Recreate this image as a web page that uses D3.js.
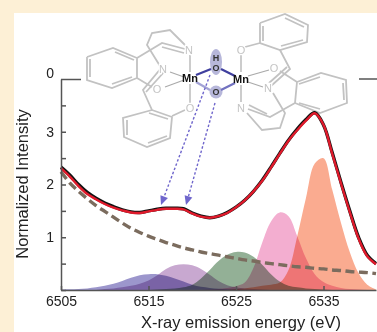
<!DOCTYPE html>
<html>
<head>
<meta charset="utf-8">
<script src="https://cdnjs.cloudflare.com/ajax/libs/d3/7.8.5/d3.min.js"></script>
<style>
  html, body { margin: 0; padding: 0; background: #fdf0d6; overflow: hidden; }
  text { font-family: "Liberation Sans", Arimo, sans-serif; }
</style>
</head>
<body>
<div id="canvas"></div>
<script>
// energy grid (eV), one reading per eV
const energy = d3.range(6505, 6542);

const dataLine = [2.33, 2.18, 2.0, 1.85, 1.74, 1.65, 1.58, 1.52, 1.48, 1.47, 1.5, 1.53, 1.55, 1.55, 1.54, 1.46, 1.4, 1.37, 1.4, 1.47, 1.57, 1.7, 1.87, 2.08, 2.33, 2.59, 2.84, 3.05, 3.23, 3.36, 3.13, 2.6, 2.04, 1.5, 1.0, 0.66, 0.5];
const fitLine = [2.31, 2.15, 1.97, 1.82, 1.72, 1.63, 1.56, 1.51, 1.47, 1.46, 1.49, 1.52, 1.54, 1.54, 1.53, 1.45, 1.39, 1.37, 1.4, 1.46, 1.57, 1.7, 1.87, 2.07, 2.32, 2.58, 2.83, 3.03, 3.21, 3.35, 3.13, 2.58, 2.02, 1.48, 0.98, 0.64, 0.49];
const background = [2.24, 2.03, 1.87, 1.73, 1.6, 1.49, 1.38, 1.27, 1.17, 1.09, 1.02, 0.96, 0.9, 0.85, 0.8, 0.76, 0.72, 0.69, 0.66, 0.63, 0.6, 0.57, 0.55, 0.52, 0.5, 0.48, 0.46, 0.44, 0.43, 0.41, 0.4, 0.38, 0.37, 0.35, 0.34, 0.33, 0.31];

const peak1 = [0.01, 0.015, 0.02, 0.03, 0.05, 0.08, 0.12, 0.17, 0.23, 0.28, 0.3, 0.3, 0.27, 0.22, 0.16, 0.1, 0.06, 0.04, 0.025, 0.015, 0.01, 0, 0, 0, 0, 0, 0, 0, 0, 0, 0, 0, 0, 0, 0, 0, 0];
const peak2 = [0, 0, 0, 0, 0, 0.02, 0.03, 0.05, 0.08, 0.12, 0.18, 0.28, 0.4, 0.47, 0.49, 0.47, 0.4, 0.29, 0.17, 0.09, 0.05, 0.03, 0.02, 0.01, 0, 0, 0, 0, 0, 0, 0, 0, 0, 0, 0, 0, 0];
const peak3 = [0, 0, 0, 0, 0, 0, 0, 0, 0, 0, 0, 0.01, 0.02, 0.03, 0.05, 0.1, 0.22, 0.38, 0.55, 0.67, 0.72, 0.71, 0.63, 0.48, 0.3, 0.16, 0.08, 0.05, 0.03, 0.02, 0.01, 0, 0, 0, 0, 0, 0];
const peak4 = [0, 0, 0, 0, 0, 0, 0, 0, 0, 0, 0, 0, 0, 0, 0, 0, 0, 0.01, 0.02, 0.04, 0.07, 0.14, 0.42, 0.9, 1.3, 1.47, 1.4, 1.02, 0.6, 0.3, 0.15, 0.08, 0.04, 0.02, 0.01, 0, 0];
const peak5 = [0, 0, 0, 0, 0, 0, 0, 0, 0, 0, 0, 0, 0, 0, 0, 0, 0, 0, 0, 0, 0.02, 0.03, 0.05, 0.08, 0.1, 0.14, 0.38, 1.02, 1.75, 2.4, 2.5, 1.9, 1.27, 0.72, 0.32, 0.1, 0.01];

const xTicks = [6505, 6515, 6525, 6535];
const yTicks = [0, 0.5, 1, 1.5, 2, 2.5, 3, 3.5, 4];
const yTickLabels = ['', '', '1', '', '2', '', '3', '', '0'];

const peaks = [
  [peak5, '#faab90'], [peak4, '#f3aed0'], [peak3, '#93b096'], [peak2, '#c8a8d0'], [peak1, '#9c96cc']
];

// molecule sketch, in page pixels
const ringBonds = [
  [[87,57],[113,48],[137,58],[137,78],[112,88],[87,80],[87,57]],
  [[90,59],[90,77]], [[115,52],[134,60]], [[112,84],[132,77]],
  [[152,110],[172,117],[170,138],[147,147],[124,137],[123,118],[152,110]],
  [[127,120],[127,135]], [[149,113],[168,119]], [[148,143],[167,136]],
  [[260,23],[285,14],[308,25],[307,42],[280,50],[260,43],[260,23]],
  [[263,26],[263,41]], [[285,18],[304,27]], [[281,46],[303,40]],
  [[297,82],[321,73],[346,80],[347,103],[320,113],[295,103],[297,82]],
  [[343,83],[344,100]], [[299,84],[320,77]], [[299,103],[320,109]],
  [[137,58],[162,43],[185,49]], [[162,47],[184,53]],
  [[186,46],[170,30],[152,33],[147,45],[160,66]],
  [[137,78],[152,87]], [[162,67],[143,90],[152,110]], [[165,71],[146,92]],
  [[172,116],[185,110]],
  [[245,47],[260,43]], [[280,50],[290,69],[271,86]], [[287,67],[269,83]],
  [[280,71],[297,82]],
  [[273,93],[285,113],[280,128],[262,130],[247,113]],
  [[295,103],[270,117],[248,109]], [[267,114],[249,105]]
];
const metalBonds = [
  [[190,55],[190,72]], [[190,84],[190,103]], [[165,87],[184,80]], [[170,72],[184,77]],
  [[241,55],[241,72]], [[241,85],[241,102]], [[248,76],[269,70]], [[248,82],[263,87]]
];
const greyAtoms = [
  ['N', 189, 50], ['N', 163, 69], ['O', 157, 89], ['O', 190, 108],
  ['O', 241, 50], ['O', 274, 68], ['N', 268, 88], ['N', 241, 108]
];
const coreBonds = [
  [[196,75],[211,69],'#3f3f9e'], [[196,82],[210,90],'#a3a3d6'],
  [[221,69],[235,76],'#3f3f9e'], [[221,90],[235,83],'#7272c0']
];
const arrows = [[[210,75],[161,205]], [[215,103],[186,205]]];

const svg = d3.select('#canvas')
    .append('svg')
    .attr('width', 377)
    .attr('height', 332)
    .style('display', 'block');

svg.append('rect')
    .attr('x', 14)
    .attr('y', 13)
    .attr('width', 363)
    .attr('height', 319)
    .attr('fill', 'white');

const xScale = d3.scaleLinear().domain([6505, 6541]).range([61, 376]);
const yScale = d3.scaleLinear().domain([0, 4]).range([290, 79]);

const line = d3.line()
    .x((d, i) => xScale(energy[i]))
    .y(d => yScale(d))
    .curve(d3.curveCatmullRom.alpha(0.5));

const area = d3.area()
    .x((d, i) => xScale(energy[i]))
    .y0(yScale(0))
    .y1(d => Math.min(yScale(d), yScale(0)))
    .curve(d3.curveCatmullRom.alpha(0.5));

// molecule goes under the curves
const mol = svg.append('g');
const bond = d3.line();

mol.selectAll('.ring')
    .data(ringBonds)
    .enter()
    .append('path')
    .attr('d', bond)
    .attr('fill', 'none')
    .attr('stroke', '#c2c2c2')
    .attr('stroke-width', 1.8);

mol.selectAll('.metal')
    .data(metalBonds)
    .enter()
    .append('path')
    .attr('d', bond)
    .attr('fill', 'none')
    .attr('stroke', '#aaaaaa')
    .attr('stroke-width', 1.2);

mol.selectAll('.atom')
    .data(greyAtoms)
    .enter()
    .append('text')
    .text(d => d[0])
    .attr('x', d => d[1])
    .attr('y', d => d[2])
    .attr('dy', '0.35em')
    .attr('text-anchor', 'middle')
    .attr('font-size', 11)
    .attr('fill', '#c4c4c4')
    .attr('stroke', 'white')
    .attr('stroke-width', 2.5)
    .attr('paint-order', 'stroke');

mol.append('ellipse')
    .attr('cx', 216).attr('cy', 62).attr('rx', 6).attr('ry', 13)
    .attr('fill', '#b7b7da');
mol.append('circle')
    .attr('cx', 216).attr('cy', 92).attr('r', 6.5)
    .attr('fill', '#b7b7da');

mol.selectAll('.core')
    .data(coreBonds)
    .enter()
    .append('line')
    .attr('x1', d => d[0][0]).attr('y1', d => d[0][1])
    .attr('x2', d => d[1][0]).attr('y2', d => d[1][1])
    .attr('stroke', d => d[2])
    .attr('stroke-width', 2.2);

[['Mn', 190, 78], ['Mn', 241, 79], ['H', 216, 58], ['O', 216, 68], ['O', 216, 92]].forEach(a => {
  mol.append('text')
      .text(a[0])
      .attr('x', a[1])
      .attr('y', a[2])
      .attr('dy', '0.35em')
      .attr('text-anchor', 'middle')
      .attr('font-size', a[0] === 'Mn' ? 11 : 9)
      .attr('font-weight', 'bold')
      .attr('fill', a[0] === 'Mn' ? '#111' : '#333');
});

// fitted peaks
svg.selectAll('.peak')
    .data(peaks)
    .enter()
    .append('path')
    .attr('class', 'peak')
    .attr('d', d => area(d[0]))
    .attr('fill', d => d[1])
    .style('mix-blend-mode', 'multiply');

svg.append('path')
    .attr('d', line(background))
    .attr('fill', 'none')
    .attr('stroke', '#7b6c5e')
    .attr('stroke-width', 3.4)
    .attr('stroke-dasharray', '9 4.5');

svg.append('path')
    .attr('d', line(dataLine))
    .attr('fill', 'none')
    .attr('stroke', '#111')
    .attr('stroke-width', 3.4);

svg.append('path')
    .attr('d', line(fitLine))
    .attr('fill', 'none')
    .attr('stroke', '#e01a2b')
    .attr('stroke-width', 2.4);

// dashed arrows from the bridging oxygens
arrows.forEach(a => {
  const ang = Math.atan2(a[1][1] - a[0][1], a[1][0] - a[0][0]);
  const head = 9;
  const bx = a[1][0] - head * Math.cos(ang), by = a[1][1] - head * Math.sin(ang);
  svg.append('line')
      .attr('x1', a[0][0]).attr('y1', a[0][1])
      .attr('x2', bx).attr('y2', by)
      .attr('stroke', '#6f66cc')
      .attr('stroke-width', 1.4)
      .attr('stroke-dasharray', '2.5 2');
  svg.append('polygon')
      .attr('points', [
        a[1],
        [bx - 4 * Math.sin(ang), by + 4 * Math.cos(ang)],
        [bx + 4 * Math.sin(ang), by - 4 * Math.cos(ang)]
      ].map(p => p.join(',')).join(' '))
      .attr('fill', '#6f66cc');
});

// axes
const xAxis = d3.axisBottom(xScale)
    .tickValues(xTicks)
    .tickFormat(d3.format('d'))
    .tickSizeInner(-4)
    .tickSizeOuter(0)
    .tickPadding(6);

const yAxis = d3.axisLeft(yScale)
    .tickValues(yTicks)
    .tickFormat((d, i) => yTickLabels[i])
    .tickSizeInner(-5)
    .tickSizeOuter(0)
    .tickPadding(7);

const gx = svg.append('g').call(xAxis)
    .attr('transform', `translate(0, ${yScale(0)})`);
const gy = svg.append('g').call(yAxis)
    .attr('transform', `translate(${xScale(6505)}, 0)`);

[gx, gy].forEach(g => {
  g.selectAll('path, line').attr('stroke', '#555').attr('stroke-width', 1.5);
  g.selectAll('text').attr('fill', '#222').attr('font-size', 14).attr('font-family', '"Liberation Sans"');
});

// top tick is longer and its label sits a little higher
const topTick = gy.selectAll('.tick').filter(d => d === 4);
topTick.select('line').attr('x2', 20);
topTick.select('text').attr('y', -6);

svg.append('line')
    .attr('x1', 359).attr('x2', 377)
    .attr('y1', yScale(4)).attr('y2', yScale(4))
    .attr('stroke', '#555')
    .attr('stroke-width', 1.5);

svg.append('text')
    .text('X-ray emission energy (eV)')
    .attr('x', 241)
    .attr('y', 328)
    .attr('text-anchor', 'middle')
    .attr('font-size', 16.5)
    .attr('fill', '#222');

svg.append('text')
    .text('Normalized Intensity')
    .attr('transform', 'translate(28, 184) rotate(-90)')
    .attr('text-anchor', 'middle')
    .attr('font-size', 16.5)
    .attr('fill', '#222');
</script>
</body>
</html>
